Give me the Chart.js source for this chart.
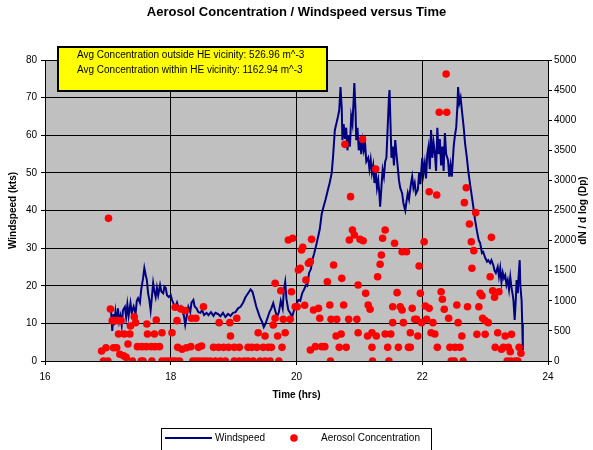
<!DOCTYPE html>
<html>
<head>
<meta charset="utf-8">
<title>Aerosol Concentration / Windspeed versus Time</title>
<script src="https://cdn.jsdelivr.net/npm/chart.js@4.4.1/dist/chart.umd.min.js"></script>
<style>
  html, body { margin: 0; padding: 0; background: #fff; }
  #wrap { position: relative; width: 593px; height: 450px; }
</style>
</head>
<body>
<div id="wrap"><canvas id="chart"></canvas></div>
<script>
// windspeed trace (hrs, kts)
const windTime = [
  17.05, 17.07, 17.09, 17.10, 17.12, 17.14, 17.16, 17.18, 17.20, 17.22, 17.24, 17.27, 17.29, 17.31, 17.33, 17.36,
  17.38, 17.41, 17.44, 17.46, 17.48, 17.51, 17.53, 17.56, 17.58, 17.60, 17.62, 17.64, 17.66, 17.68, 17.70, 17.72,
  17.74, 17.76, 17.78, 17.80, 17.83, 17.85, 17.88, 17.90, 17.92, 17.94, 17.97, 18.00, 18.02, 18.05, 18.08, 18.10,
  18.13, 18.16, 18.18, 18.21, 18.23, 18.26, 18.28, 18.31, 18.33, 18.36, 18.38, 18.41, 18.44, 18.47, 18.50, 18.53,
  18.57, 18.60, 18.64, 18.68, 18.71, 18.75, 18.79, 18.83, 18.87, 18.91, 18.95, 18.99, 19.03, 19.07, 19.11, 19.15,
  19.19, 19.23, 19.27, 19.30, 19.33, 19.36, 19.39, 19.42, 19.45, 19.48, 19.51, 19.54, 19.57, 19.60, 19.63, 19.66,
  19.69, 19.72, 19.75, 19.78, 19.80, 19.82, 19.84, 19.87, 19.90, 19.93, 19.96, 19.99, 20.03, 20.06, 20.09, 20.12,
  20.15, 20.17, 20.20, 20.23, 20.25, 20.28, 20.31, 20.33, 20.37, 20.40, 20.43, 20.46, 20.50, 20.53, 20.56, 20.58,
  20.61, 20.64, 20.66, 20.68, 20.70, 20.72, 20.73, 20.75, 20.77, 20.79, 20.81, 20.83, 20.85, 20.87, 20.89, 20.91,
  20.92, 20.94, 20.95, 20.97, 20.99, 21.01, 21.03, 21.05, 21.07, 21.09, 21.11, 21.14, 21.16, 21.18, 21.20, 21.22,
  21.24, 21.26, 21.28, 21.30, 21.32, 21.33, 21.35, 21.37, 21.39, 21.41, 21.43, 21.45, 21.47, 21.48, 21.50, 21.51,
  21.53, 21.55, 21.57, 21.59, 21.61, 21.63, 21.65, 21.68, 21.70, 21.73, 21.75, 21.77, 21.79, 21.82, 21.84, 21.86,
  21.88, 21.90, 21.93, 21.95, 21.97, 22.00, 22.02, 22.04, 22.06, 22.08, 22.10, 22.12, 22.14, 22.16, 22.18, 22.20,
  22.22, 22.24, 22.26, 22.28, 22.30, 22.32, 22.34, 22.36, 22.38, 22.41, 22.43, 22.45, 22.47, 22.50, 22.52, 22.54,
  22.56, 22.57, 22.59, 22.61, 22.63, 22.66, 22.68, 22.71, 22.73, 22.76, 22.79, 22.82, 22.84, 22.87, 22.90, 22.92,
  22.95, 22.97, 23.00, 23.03, 23.05, 23.08, 23.10, 23.13, 23.15, 23.17, 23.20, 23.22, 23.24, 23.26, 23.28, 23.30,
  23.32, 23.34, 23.36, 23.38, 23.40, 23.42, 23.44, 23.45, 23.47, 23.49, 23.50, 23.52, 23.53, 23.55, 23.56, 23.58,
  23.59, 23.60
];
const windSpeed = [
  13.5, 8.0, 12.5, 9.5, 13.0, 10.0, 14.0, 10.5, 12.0, 9.5, 13.5, 14.4, 11.7, 15.0, 12.0, 15.4,
  12.8, 14.5, 12.5, 16.0, 16.7, 15.5, 19.0, 22.0, 24.7, 23.0, 21.5, 18.0, 16.2, 13.5, 17.0, 20.7,
  18.5, 17.0, 19.5, 17.5, 20.2, 18.5, 18.0, 19.8, 19.4, 17.5, 17.0, 17.5, 16.2, 15.0, 14.4, 15.5,
  13.8, 14.5, 13.5, 12.0, 9.6, 12.5, 14.4, 13.0, 15.5, 16.2, 14.5, 14.0, 13.0, 12.8, 13.5, 12.2,
  12.8, 12.2, 13.0, 12.0, 12.8, 12.5, 11.9, 12.8, 11.7, 12.5, 12.0, 12.8, 13.0, 14.0, 14.4, 15.5,
  17.0, 18.0, 19.0, 18.4, 16.5, 14.5, 13.0, 11.5, 10.5, 9.0, 10.0, 11.5, 13.0, 14.0, 15.4, 13.5,
  11.7, 13.0, 16.0, 14.0, 19.0, 21.0, 16.5, 13.5, 12.8, 11.7, 13.5, 15.0, 16.2, 16.0, 18.0, 19.0,
  20.2, 20.0, 23.4, 24.5, 26.8, 28.5, 30.5, 32.0, 35.0, 39.0, 41.0, 42.8, 45.5, 47.5, 50.0, 54.0,
  61.4, 63.5, 65.0, 66.7, 72.8, 67.0, 58.7, 63.0, 59.0, 62.0, 56.0, 60.0, 57.0, 65.0, 63.0, 70.0,
  73.9, 66.0, 58.7, 62.0, 56.0, 59.0, 55.0, 58.5, 56.0, 58.0, 53.0, 54.0, 51.0, 53.5, 50.0, 52.0,
  47.3, 50.8, 46.0, 48.0, 44.0, 41.0, 46.0, 50.8, 49.0, 53.0, 54.0, 62.0, 70.0, 72.0, 60.0, 54.0,
  57.0, 52.0, 58.7, 55.0, 51.6, 48.0, 46.0, 44.6, 42.0, 40.0, 42.5, 44.6, 43.0, 47.0, 49.0, 46.0,
  47.3, 44.5, 45.5, 50.0, 47.0, 54.0, 50.0, 52.6, 48.5, 55.0, 57.0, 51.0, 61.4, 54.0, 58.0, 55.3,
  50.5, 62.0, 55.0, 59.0, 52.0, 57.0, 50.5, 60.6, 55.0, 53.4, 49.0, 52.0, 49.0, 57.0, 60.0, 62.0,
  68.0, 72.8, 68.6, 70.0, 66.7, 62.0, 58.0, 54.0, 50.8, 47.0, 43.6, 40.0, 37.5, 34.5, 32.0, 31.4,
  28.7, 29.0, 27.5, 26.4, 26.8, 26.0, 26.8, 25.5, 24.0, 23.4, 25.0, 22.5, 24.7, 21.0, 23.5, 22.0,
  22.8, 20.2, 21.5, 19.0, 22.3, 19.4, 17.5, 16.2, 10.9, 17.0, 21.5, 18.0, 22.0, 26.8, 20.0, 16.2,
  10.0, 2.9
];

// aerosol samples (hrs, dN/dlogDp)
const aerosolTime = [
  16.90, 16.93, 16.97, 17.00, 17.01, 17.04, 17.07, 17.09, 17.11, 17.14, 17.16, 17.17, 17.19, 17.21, 17.25, 17.26,
  17.29, 17.32, 17.35, 17.36, 17.39, 17.42, 17.44, 17.47, 17.53, 17.54, 17.56, 17.62, 17.61, 17.63, 17.69, 17.70,
  17.74, 17.75, 17.77, 17.82, 17.86, 17.86, 17.92, 17.97, 18.02, 18.03, 18.07, 18.08, 18.10, 18.11, 18.14, 18.16,
  18.18, 18.23, 18.25, 18.32, 18.33, 18.35, 18.40, 18.41, 18.44, 18.46, 18.49, 18.52, 18.52, 18.57, 18.63, 18.68,
  18.71, 18.76, 18.77, 18.79, 18.84, 18.87, 18.92, 18.94, 18.95, 19.01, 19.01, 19.05, 19.09, 19.09, 19.17, 19.23,
  19.23, 19.29, 19.31, 19.37, 19.39, 19.42, 19.47, 19.50, 19.50, 19.55, 19.58, 19.60, 19.63, 19.66, 19.66, 19.70,
  19.72, 19.75, 19.77, 19.79, 19.82, 19.87, 19.90, 19.92, 19.94, 19.98, 20.01, 20.03, 20.06, 20.08, 20.10, 20.13,
  20.15, 20.19, 20.22, 20.22, 20.24, 20.27, 20.30, 20.35, 20.37, 20.40, 20.45, 20.49, 20.53, 20.54, 20.55, 20.59,
  20.63, 20.64, 20.68, 20.71, 20.72, 20.75, 20.77, 20.79, 20.83, 20.84, 20.86, 20.89, 20.92, 20.96, 20.98, 20.98,
  21.01, 21.05, 21.06, 21.10, 21.13, 21.14, 21.17, 21.20, 21.20, 21.21, 21.26, 21.27, 21.29, 21.33, 21.35, 21.37,
  21.41, 21.41, 21.45, 21.47, 21.50, 21.53, 21.53, 21.56, 21.60, 21.62, 21.65, 21.68, 21.68, 21.70, 21.75, 21.78,
  21.81, 21.81, 21.84, 21.88, 21.91, 21.93, 21.95, 21.97, 21.99, 22.03, 22.05, 22.07, 22.11, 22.11, 22.14, 22.17,
  22.20, 22.23, 22.24, 22.27, 22.30, 22.32, 22.35, 22.38, 22.39, 22.42, 22.44, 22.46, 22.51, 22.52, 22.55, 22.57,
  22.60, 22.63, 22.65, 22.67, 22.70, 22.72, 22.75, 22.78, 22.79, 22.82, 22.85, 22.87, 22.90, 22.92, 22.95, 22.96,
  23.00, 23.00, 23.05, 23.08, 23.10, 23.12, 23.15, 23.16, 23.20, 23.22, 23.26, 23.29, 23.32, 23.35, 23.37, 23.40,
  23.41, 23.42, 23.48, 23.52, 23.54, 23.57
];
const aerosolConc = [
  166, 0, 221, 0, 2370, 864, 670, 221, 670, 221, 670, 448, 111, 670, 88, 448,
  61, 282, 448, 581, 0, 736, 637, 238, 0, 238, 0, 614, 238, 448, 238, 0,
  448, 238, 681, 238, 470, 0, 0, 0, 470, 0, 892, 0, 670, 227, 0, 864,
  194, 836, 221, 238, 709, 0, 709, 0, 227, 0, 249, 902, 0, 0, 0, 227,
  0, 227, 637, 0, 227, 0, 227, 637, 415, 227, 0, 709, 227, 0, 0, 227,
  0, 227, 0, 227, 470, 0, 227, 415, 0, 227, 0, 227, 598, 709, 1290, 415,
  0, 1168, 227, 692, 470, 2010, 692, 1151, 2038, 902, 902, 1511, 1540, 1844, 1888, 925,
  1345, 1623, 1650, 183, 2021, 847, 238, 875, 709, 238, 238, 1317, 930, 0, 692, 1595,
  415, 692, 227, 448, 1373, 930, 3599, 227, 692, 2010, 2730, 2176, 2093, 692, 1262, 470,
  2021, 3682, 1998, 1124, 415, 930, 859, 470, 227, 0, 3189, 415, 1400, 1606, 1761, 2038,
  2176, 448, 227, 0, 448, 902, 637, 1955, 1135, 227, 902, 847, 1816, 637, 1816, 227,
  470, 227, 875, 692, 692, 415, 1578, 1124, 637, 1982, 913, 692, 875, 2812, 470, 637,
  448, 2757, 227, 4131, 1151, 1025, 859, 4767, 4131, 709, 227, 0, 0, 227, 930, 637,
  227, 415, 0, 2630, 2878, 902, 2275, 1982, 1540, 1833, 2464, 443, 902, 1124, 1085, 709,
  443, 670, 637, 1400, 2054, 1168, 1058, 227, 470, 1151, 194, 227, 415, 0, 227, 155,
  0, 443, 0, 0, 227, 128
];

const avgNotes = [
  'Avg Concentration outside HE vicinity: 526.96 m^-3',
  'Avg Concentration within HE vicinity: 1162.94 m^-3'
];

const FONT = 'Arial, "Liberation Sans", sans-serif';
Chart.defaults.font.family = FONT;
Chart.defaults.color = '#000';

const windPoints = windTime.map((t, i) => ({ x: t, y: windSpeed[i] }));
const aerosolPoints = aerosolTime.map((t, i) => ({ x: t, y: aerosolConc[i] }));

// gray plot area, yellow note box, boxed legend, right axis title
const decor = {
  id: 'decor',
  beforeDraw(chart) {
    const { ctx, chartArea: a } = chart;
    ctx.save();
    ctx.fillStyle = '#c0c0c0';
    ctx.fillRect(a.left, a.top, a.right - a.left, a.bottom - a.top);
    ctx.restore();
  },
  afterDraw(chart) {
    const { ctx, chartArea: a } = chart;
    ctx.save();

    // right axis title, reads bottom to top
    ctx.font = 'bold 10px ' + FONT;
    ctx.fillStyle = '#000';
    ctx.textAlign = 'center';
    ctx.textBaseline = 'middle';
    ctx.translate(583, (a.top + a.bottom) / 2);
    ctx.rotate(-Math.PI / 2);
    ctx.fillText('dN / d log (Dp)', 0, 0);
    ctx.setTransform(1, 0, 0, 1, 0, 0);

    // note box
    ctx.fillStyle = '#ffff00';
    ctx.fillRect(58, 47, 269, 44);
    ctx.lineWidth = 2;
    ctx.strokeStyle = '#000';
    ctx.strokeRect(58, 47, 269, 44);
    ctx.fillStyle = '#000';
    ctx.font = '10px ' + FONT;
    ctx.textAlign = 'left';
    ctx.textBaseline = 'middle';
    ctx.fillText(avgNotes[0], 77, 55);
    ctx.fillText(avgNotes[1], 77, 70);

    // legend
    ctx.lineWidth = 1;
    ctx.strokeRect(161.5, 428.5, 270, 30);
    ctx.strokeStyle = '#000080';
    ctx.lineWidth = 2;
    ctx.beginPath();
    ctx.moveTo(165, 438);
    ctx.lineTo(212, 438);
    ctx.stroke();
    ctx.fillText('Windspeed', 215, 438);
    ctx.fillStyle = '#ff0000';
    ctx.beginPath();
    ctx.arc(294, 438, 3.8, 0, Math.PI * 2);
    ctx.fill();
    ctx.fillStyle = '#000';
    ctx.fillText('Aerosol Concentration', 321, 438);
    ctx.restore();
  }
};

const gridBlack = { color: '#000', lineWidth: 1, tickLength: 4, tickColor: '#000' };

new Chart(document.getElementById('chart'), {
  type: 'scatter',
  data: {
    datasets: [
      {
        label: 'Aerosol Concentration',
        data: aerosolPoints,
        yAxisID: 'y1',
        pointRadius: 3.8,
        pointBackgroundColor: '#ff0000',
        pointBorderWidth: 0,
        showLine: false,
        order: 0
      },
      {
        label: 'Windspeed',
        data: windPoints,
        yAxisID: 'y',
        showLine: true,
        borderColor: '#000080',
        borderWidth: 2,
        pointRadius: 0,
        tension: 0,
        order: 1
      }
    ]
  },
  options: {
    responsive: true,
    maintainAspectRatio: false,
    animation: false,
    layout: { padding: { top: 0, left: 0, right: 0, bottom: 44 } },
    plugins: {
      legend: { display: false },
      tooltip: { enabled: false },
      title: {
        display: true,
        text: 'Aerosol Concentration / Windspeed versus Time',
        font: { size: 13, weight: 'bold' },
        color: '#000',
        padding: { top: 5, bottom: 39.4 }
      }
    },
    scales: {
      x: {
        type: 'linear',
        min: 16,
        max: 24,
        ticks: { stepSize: 2, font: { size: 10 }, padding: 6, color: '#000' },
        grid: gridBlack,
        border: { display: true, color: '#000', width: 1 },
        title: { display: true, text: 'Time (hrs)', font: { size: 10, weight: 'bold' }, padding: { top: 0, bottom: 5 } },
        afterFit: s => { s.height = 45; }
      },
      y: {
        position: 'left',
        min: 0,
        max: 80,
        ticks: { stepSize: 10, font: { size: 10 }, padding: 4, color: '#000' },
        grid: gridBlack,
        border: { display: true, color: '#000', width: 1 },
        title: { display: true, text: 'Windspeed (kts)', font: { size: 10, weight: 'bold' }, padding: { top: 7, bottom: 0 } },
        afterFit: s => { s.width = 45; }
      },
      y1: {
        position: 'right',
        min: 0,
        max: 5000,
        ticks: { stepSize: 500, font: { size: 10 }, padding: 2, color: '#000', callback: v => String(v) },
        grid: { drawOnChartArea: false, tickLength: 4, tickColor: '#000', color: '#000' },
        border: { display: true, color: '#000', width: 1 },
        afterFit: s => { s.width = 45; }
      }
    }
  },
  plugins: [decor]
});
</script>
</body>
</html>
